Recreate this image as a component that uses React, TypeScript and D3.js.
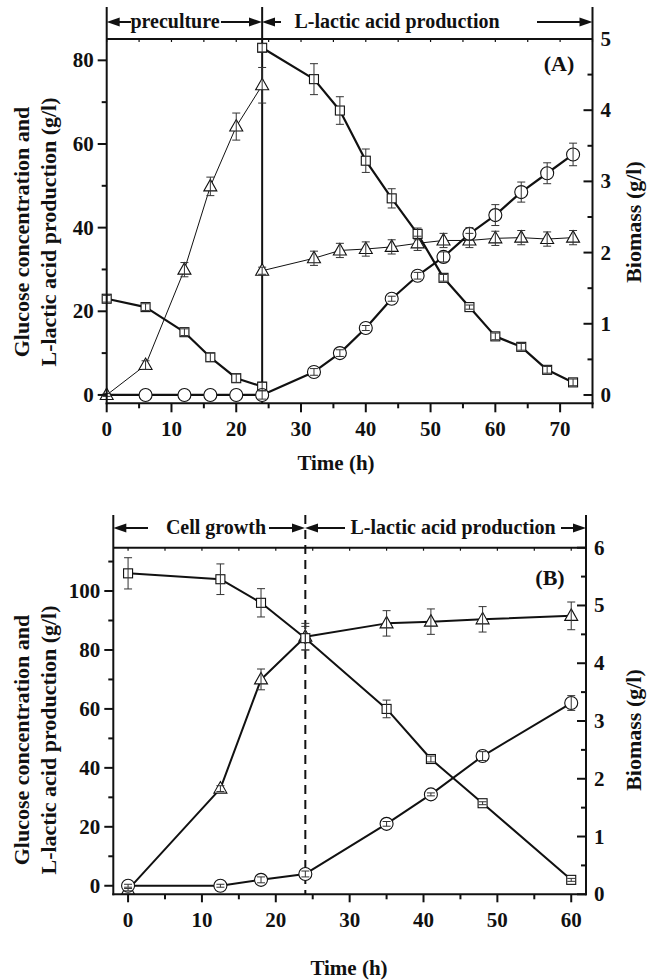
import React from 'react';
import * as d3 from 'd3';

// ---- panel A data ----
const timeAPre = [0, 6, 12, 16, 20, 24];
const timeAProd = [24, 32, 36, 40, 44, 48, 52, 56, 60, 64, 68, 72];
const timeALactic = [0, 6, 12, 16, 20, 24, 32, 36, 40, 44, 48, 52, 56, 60, 64, 68, 72];

const glucoseAPre = [23, 21, 15, 9, 4, 2];
const glucoseAPreErr = [0.8, 0.8, 0.8, 1, 1, 1];
const glucoseAProd = [83, 75.5, 68, 56, 47, 38.5, 28, 21, 14, 11.5, 6, 3];
const glucoseAProdErr = [1, 3.7, 3.3, 2.8, 2.3, 1.4, 0.8, 0.5, 0.8, 0.8, 0.8, 0.8];

const lacticA = [0, 0, 0, 0, 0, 0, 5.5, 10, 16, 23, 28.5, 33, 38.5, 43, 48.5, 53, 57.5];
const lacticAErr = [0, 0, 0, 0, 0, 1, 0.8, 0.8, 0.6, 0.6, 0.8, 1.2, 1.5, 2.5, 2.4, 2.5, 2.7];

const biomassAPre = [0, 0.42, 1.76, 2.93, 3.77, 4.35];
const biomassAPreErr = [0.02, 0.06, 0.1, 0.13, 0.19, 0.25];
const biomassAProd = [1.745, 1.92, 2.03, 2.05, 2.08, 2.13, 2.17, 2.17, 2.2, 2.21, 2.19, 2.21];
const biomassAProdErr = [0.05, 0.1, 0.1, 0.1, 0.1, 0.1, 0.1, 0.1, 0.1, 0.1, 0.1, 0.1];

// ---- panel B data ----
const timeB = [0, 12.5, 18, 24, 35, 41, 48, 60];
const glucoseB = [106, 104, 96, 84, 60, 43, 28, 2];
const glucoseBErr = [5.3, 5.2, 4.8, 4, 3, 1, 0.5, 0.5];
const lacticB = [0, 0, 2, 4, 21, 31, 44, 62];
const lacticBErr = [0.5, 0.5, 1, 1, 0.8, 0.5, 1.5, 2.5];
const biomassB = [0.08, 1.83, 3.72, 4.46, 4.69, 4.72, 4.76, 4.82];
const biomassBErr = [0.02, 0.05, 0.18, 0.23, 0.22, 0.22, 0.22, 0.24];

const xTicksA = [0, 10, 20, 30, 40, 50, 60, 70];
const xTicksB = [0, 10, 20, 30, 40, 50, 60];
const yLeftTicksA = [0, 20, 40, 60, 80];
const yLeftTicksB = [0, 20, 40, 60, 80, 100];
const yRightTicksA = [0, 1, 2, 3, 4, 5];
const yRightTicksB = [0, 1, 2, 3, 4, 5, 6];

const FONT = "'Liberation Serif', 'Times New Roman', serif";

type Series = {
  t: number[];
  v: number[];
  err: number[];
  axis: 'L' | 'R';
  marker: 'square' | 'circle' | 'triangle';
  width: number;
  skip?: number; // markers hidden for the first n points
};

type Header = { label: string; from: number; to: number; textX: number; tail1: number; tail2: number };

type PanelProps = {
  left: number; right: number; top: number; bottom: number; headTop: number; headY: number;
  xDomain: [number, number]; yLDomain: [number, number]; yRDomain: [number, number];
  xTicks: number[]; xMinorEnd: number; yLTicks: number[]; yLMinorMax: number; yRTicks: number[];
  xTickLen: number; xMinorLen: number;
  series: Series[]; divider: number; dashed: boolean; headers: Header[];
  tag: string; tagX: number; tagY: number;
  xLabelX: number; xLabelY: number; yLabelY: number; rLabelY: number;
};

const Marker = ({ kind, x, y }: { kind: string; x: number; y: number }) => {
  if (kind === 'circle') return <circle cx={x} cy={y} r={6.5} fill="#fff" stroke="#111" strokeWidth={1.1} />;
  if (kind === 'square') return <rect x={x - 4.5} y={y - 4.5} width={9} height={9} fill="#fff" stroke="#111" strokeWidth={1.1} />;
  return <path d={`M${x},${y - 7}L${x + 6.5},${y + 4.5}L${x - 6.5},${y + 4.5}Z`} fill="#fff" stroke="#111" strokeWidth={1.1} />;
};

const Arrow = ({ x1, x2, y }: { x1: number; x2: number; y: number }) => {
  // tail at x1, head at x2
  const dir = x2 > x1 ? 1 : -1;
  return (
    <g>
      <line x1={x1} x2={x2 - dir * 10} y1={y} y2={y} stroke="#111" strokeWidth={2} />
      <path d={`M${x2},${y}L${x2 - dir * 13},${y - 4.5}L${x2 - dir * 13},${y + 4.5}Z`} fill="#111" />
    </g>
  );
};

const Panel = (p: PanelProps) => {
  const x = d3.scaleLinear().domain(p.xDomain).range([p.left, p.right]);
  const yL = d3.scaleLinear().domain(p.yLDomain).range([p.bottom, p.top]);
  const yR = d3.scaleLinear().domain(p.yRDomain).range([p.bottom, p.top]);
  const xMinor = d3.range(0, p.xMinorEnd + 0.01, 5);
  const yLMinor = d3.range(0, p.yLMinorMax + 0.01, 10);
  const yRMinor = d3.range(0, p.yRDomain[1] + 0.01, 0.5);

  return (
    <g fontFamily={FONT} fontWeight="bold" fill="#111">
      {/* series lines */}
      {p.series.map((s, i) => {
        const ys = s.axis === 'L' ? yL : yR;
        const line = d3.line<number>().x((_, j) => x(s.t[j])).y((d) => ys(d));
        return <path key={'l' + i} d={line(s.v) || ''} fill="none" stroke="#111" strokeWidth={s.width} strokeLinejoin="round" />;
      })}
      {/* divider */}
      <line x1={x(p.divider)} x2={x(p.divider)} y1={p.headTop} y2={p.bottom} stroke="#111" strokeWidth={2}
        strokeDasharray={p.dashed ? '9,6' : undefined} />
      {/* markers */}
      {p.series.map((s, i) => {
        const ys = s.axis === 'L' ? yL : yR;
        return s.v.map((v, j) => (j < (s.skip || 0) ? null :
          <Marker key={`m${i}-${j}`} kind={s.marker} x={x(s.t[j])} y={ys(v)} />));
      })}
      {/* error bars */}
      {p.series.map((s, i) => {
        const ys = s.axis === 'L' ? yL : yR;
        return s.v.map((v, j) => {
          if (!s.err[j]) return null;
          const cx = x(s.t[j]);
          const a = ys(v + s.err[j]);
          const b = ys(v - s.err[j]);
          return (
            <g key={`e${i}-${j}`} stroke="#333" strokeWidth={1}>
              <line x1={cx} x2={cx} y1={a} y2={b} />
              <line x1={cx - 4} x2={cx + 4} y1={a} y2={a} />
              <line x1={cx - 4} x2={cx + 4} y1={b} y2={b} />
            </g>
          );
        });
      })}
      {/* frame */}
      <g stroke="#111" strokeWidth={2} fill="none">
        <line x1={p.left} x2={p.right} y1={p.top} y2={p.top} />
        <line x1={p.left - 1} x2={p.right + 1} y1={p.bottom} y2={p.bottom} />
        <line x1={p.left} x2={p.left} y1={p.headTop} y2={p.bottom + 1} />
        <line x1={p.right} x2={p.right} y1={p.headTop} y2={p.bottom + 1} />
      </g>
      {/* ticks */}
      <g stroke="#111" strokeWidth={2}>
        {xMinor.map((t) => {
          const major = p.xTicks.includes(t);
          return <line key={'xt' + t} x1={x(t)} x2={x(t)} y1={p.bottom} y2={p.bottom + (major ? p.xTickLen : p.xMinorLen)} />;
        })}
        {xMinor.map((t) => <line key={'xtt' + t} x1={x(t)} x2={x(t)} y1={p.top} y2={p.top + 3} strokeWidth={1.2} />)}
        {yLMinor.map((v) => (
          <line key={'yl' + v} x1={p.left} x2={p.left - (v % 20 === 0 ? 9 : 5)} y1={yL(v)} y2={yL(v)} />
        ))}
        {yRMinor.map((v) => (
          <line key={'yr' + v} x1={p.right} x2={p.right - (v % 1 === 0 ? 9 : 5)} y1={yR(v)} y2={yR(v)} />
        ))}
      </g>
      <g fontSize={21}>
        {p.xTicks.map((t) => (
          <text key={'xl' + t} x={x(t)} y={p.bottom + 33} textAnchor="middle">{t}</text>
        ))}
        {p.yLTicks.map((v) => (
          <text key={'yll' + v} x={p.left - 13} y={yL(v) + 7} textAnchor="end">{v}</text>
        ))}
        {p.yRTicks.map((v) => (
          <text key={'yrl' + v} x={p.right + 8} y={yR(v) + 7} textAnchor="start">{v}</text>
        ))}
      </g>
      {/* header */}
      <g fontSize={20}>
        {p.headers.map((h) => (
          <g key={h.label}>
            <Arrow x1={h.tail1} x2={h.from} y={p.headY} />
            <Arrow x1={h.tail2} x2={h.to} y={p.headY} />
            <text x={h.textX} y={p.headY + 6} textAnchor="middle">{h.label}</text>
          </g>
        ))}
      </g>
      <text x={p.tagX} y={p.tagY} fontSize={22} textAnchor="middle">{p.tag}</text>
      <text x={p.xLabelX} y={p.xLabelY} fontSize={21} textAnchor="middle">Time (h)</text>
      <g fontSize={22} textAnchor="middle">
        <text transform={`translate(29,${p.yLabelY}) rotate(-90)`}>Glucose concentration and</text>
        <text transform={`translate(56,${p.yLabelY}) rotate(-90)`}>L-lactic acid production (g/l)</text>
        <text transform={`translate(641,${p.rLabelY}) rotate(-90)`}>Biomass (g/l)</text>
      </g>
    </g>
  );
};

export default function App() {
  const seriesA: Series[] = [
    { t: timeAPre, v: biomassAPre, err: biomassAPreErr, axis: 'R', marker: 'triangle', width: 1 },
    { t: timeAProd, v: biomassAProd, err: biomassAProdErr, axis: 'R', marker: 'triangle', width: 1 },
    { t: timeAPre, v: glucoseAPre, err: glucoseAPreErr, axis: 'L', marker: 'square', width: 2.2 },
    { t: timeAProd, v: glucoseAProd, err: glucoseAProdErr, axis: 'L', marker: 'square', width: 2.2 },
    { t: timeALactic, v: lacticA, err: lacticAErr, axis: 'L', marker: 'circle', width: 2.2, skip: 1 },
  ];
  const seriesB: Series[] = [
    { t: timeB, v: biomassB, err: biomassBErr, axis: 'R', marker: 'triangle', width: 2 },
    { t: timeB, v: glucoseB, err: glucoseBErr, axis: 'L', marker: 'square', width: 2 },
    { t: timeB, v: lacticB, err: lacticBErr, axis: 'L', marker: 'circle', width: 2 },
  ];

  return (
    <svg width={649} height={980} style={{ position: 'absolute', left: 0, top: 0, display: 'block', background: '#fff' }}>
      <rect width={649} height={980} fill="#fff" />
      <Panel
        left={106.7} right={592.5} top={39} bottom={403.3} headTop={7} headY={22}
        xDomain={[0, 75]} yLDomain={[-2, 85.1]} yRDomain={[-0.117, 5]}
        xTicks={xTicksA} xMinorEnd={75} yLTicks={yLeftTicksA} yLMinorMax={80} yRTicks={yRightTicksA}
        xTickLen={9} xMinorLen={5}
        series={seriesA} divider={24} dashed={false}
        headers={[
          { label: 'preculture', from: 106.7, to: 262, textX: 175, tail1: 131, tail2: 221 },
          { label: 'L-lactic acid production', from: 262, to: 592.5, textX: 397, tail1: 281, tail2: 537 },
        ]}
        tag="(A)" tagX={559} tagY={71}
        xLabelX={336} xLabelY={470} yLabelY={232} rLabelY={222}
      />
      <Panel
        left={113.3} right={586} top={547.7} bottom={894.3} headTop={515} headY={528}
        xDomain={[-2, 62]} yLDomain={[-2.9, 114.7]} yRDomain={[0, 6]}
        xTicks={xTicksB} xMinorEnd={60} yLTicks={yLeftTicksB} yLMinorMax={110} yRTicks={yRightTicksB}
        xTickLen={8} xMinorLen={5}
        series={seriesB} divider={24} dashed={true}
        headers={[
          { label: 'Cell growth', from: 113.3, to: 305, textX: 216, tail1: 148, tail2: 269 },
          { label: 'L-lactic acid production', from: 305, to: 586, textX: 453, tail1: 345, tail2: 561 },
        ]}
        tag="(B)" tagX={550} tagY={585}
        xLabelX={349} xLabelY={975} yLabelY={740} rLabelY={730}
      />
    </svg>
  );
}
